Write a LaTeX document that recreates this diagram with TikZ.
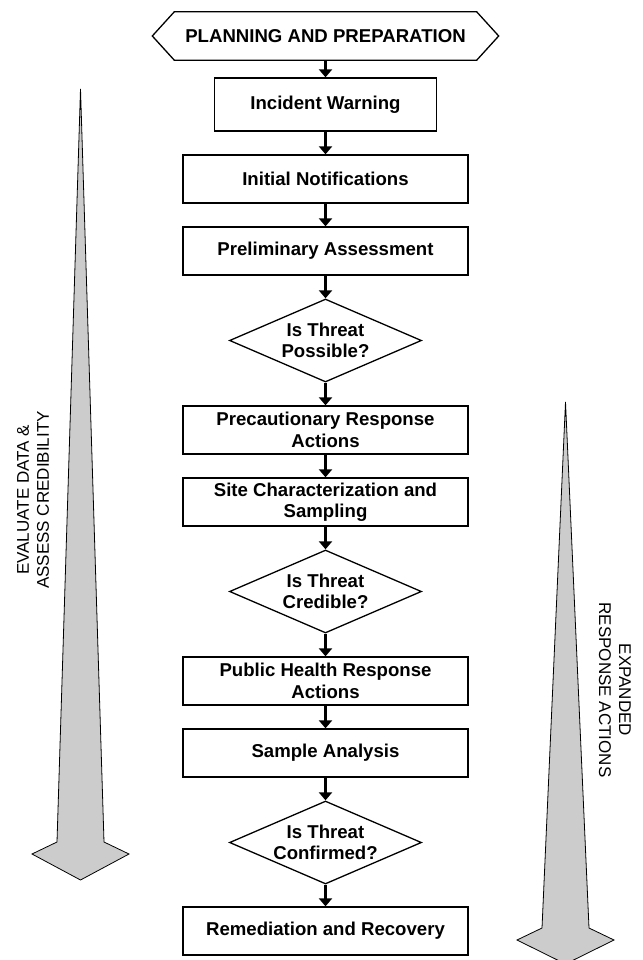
\documentclass[tikz,border=0pt]{standalone}
\usepackage{fontspec}
\setmainfont{Liberation Sans}
\usetikzlibrary{shapes.geometric,arrows.meta}
\begin{document}
\begin{tikzpicture}[x=1pt,y=-1pt,
  box/.style={draw,line width=1.3pt,minimum width=285pt,minimum height=48pt,align=center,
    font=\fontsize{18.6}{21.5}\selectfont\bfseries,inner sep=0pt},
  dec/.style={draw,shape=diamond,line width=1.3pt,aspect=2.3,minimum width=192pt,minimum height=83pt,
    align=center,inner sep=0pt,font=\fontsize{18.6}{21.5}\selectfont\bfseries},
  flow/.style={line width=2.2pt,-{Triangle[width=13pt,length=8pt]}},
  bigarrow/.style={draw=black,line width=0.8pt,fill=black!20,line join=miter},
  side/.style={align=center,font=\fontsize{17}{20}\selectfont}]
\useasboundingbox (0,0) rectangle (642,960);

% side arrows
\draw[bigarrow] (80.5,89) -- (104,842) -- (129,854) -- (80.5,880) -- (32,854) -- (57,842) -- cycle;
\draw[bigarrow] (565.5,402) -- (589,928) -- (614,940) -- (565.5,964) -- (517,940) -- (542,928) -- cycle;
\node[side,rotate=90] (lefttxt) at (33,500) {EVALUATE DATA \&\\ASSESS CREDIBILITY};
\node[side,rotate=-90] (righttxt) at (615,690) {EXPANDED\\RESPONSE ACTIONS};

% top hexagon
\node[minimum width=302pt,minimum height=48pt,inner sep=0pt,font=\fontsize{18.6}{21.5}\selectfont\bfseries] (plan) at (325.5,36) {PLANNING AND PREPARATION};
\draw[line width=1.3pt,line join=miter] (plan.north west) -- (plan.north east) -- ([xshift=22pt]plan.east) -- (plan.south east) -- (plan.south west) -- ([xshift=-22pt]plan.west) -- cycle;

\node[box,minimum width=222pt,minimum height=53pt] (iw) at (325.5,104.5) {Incident Warning};
\node[box] (in) at (325.5,179) {Initial Notifications};
\node[box] (pa) at (325.5,251) {Preliminary Assessment};
\node[dec] (d1) at (325.5,340.5) {Is Threat\\Possible?};
\node[box] (pr) at (325.5,430) {Precautionary Response\\Actions};
\node[box] (sc) at (325.5,502) {Site Characterization and\\Sampling};
\node[dec] (d2) at (325.5,591.5) {Is Threat\\Credible?};
\node[box] (ph) at (325.5,681) {Public Health Response\\Actions};
\node[box] (sa) at (325.5,753) {Sample Analysis};
\node[dec] (d3) at (325.5,842.5) {Is Threat\\Confirmed?};
\node[box] (rr) at (325.5,931) {Remediation and Recovery};

\draw[flow] (plan.south) -- (iw.north);
\draw[flow] (iw.south) -- (in.north);
\draw[flow] (in.south) -- (pa.north);
\draw[flow] (pa.south) -- (d1.north);
\draw[flow] (d1.south) -- (pr.north);
\draw[flow] (pr.south) -- (sc.north);
\draw[flow] (sc.south) -- (d2.north);
\draw[flow] (d2.south) -- (ph.north);
\draw[flow] (ph.south) -- (sa.north);
\draw[flow] (sa.south) -- (d3.north);
\draw[flow] (d3.south) -- (rr.north);
\end{tikzpicture}
\end{document}
